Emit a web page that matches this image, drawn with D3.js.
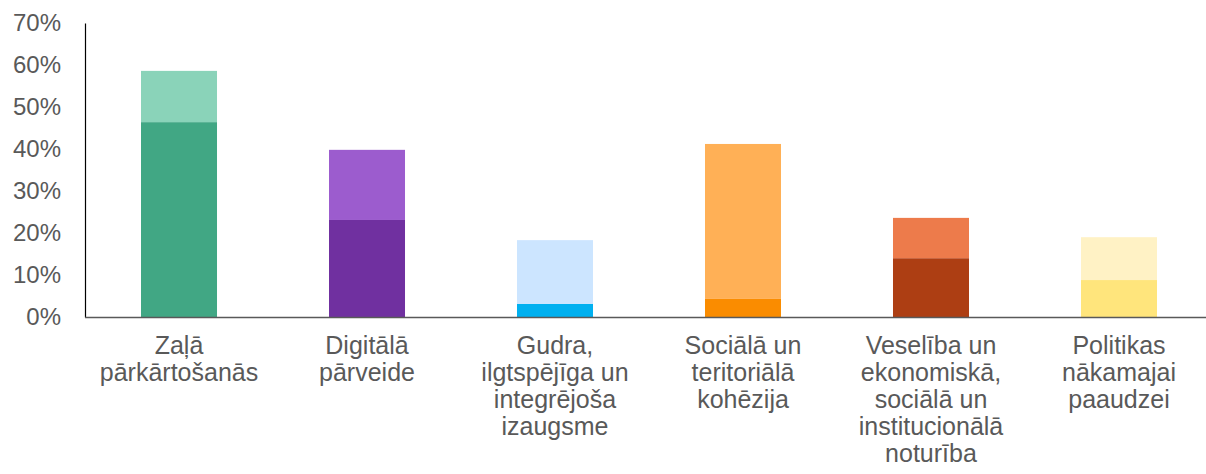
<!DOCTYPE html>
<html>
<head>
	<meta charset="utf-8">
	<title>Stacked bars</title>
	<script src="https://cdn.jsdelivr.net/npm/d3@7"></script>
	<style>
		body { margin: 0; background: #fff; }
		text { font-family: "Liberation Sans", Arial, sans-serif; fill: #595959; }
	</style>
</head>
<body>
	<div id="chart"></div>
	<script>
		var categories = [
			["Zaļā", "pārkārtošanās"],
			["Digitālā", "pārveide"],
			["Gudra,", "ilgtspējīga un", "integrējoša", "izaugsme"],
			["Sociālā un", "teritoriālā", "kohēzija"],
			["Veselība un", "ekonomiskā,", "sociālā un", "institucionālā", "noturība"],
			["Politikas", "nākamajai", "paaudzei"]
		];
		var lowerValues = [0.464, 0.231, 0.031, 0.043, 0.140, 0.088];
		var totalValues = [0.586, 0.398, 0.183, 0.412, 0.236, 0.190];
		var lowerColors = ["#41a784", "#7030a0", "#00b0f0", "#fa8c00", "#ad3e13", "#ffe57c"];
		var upperColors = ["#8ad3b9", "#9c5cce", "#cce5ff", "#ffb056", "#ed7b4b", "#fff2c5"];
		var yTicks = [0, 0.1, 0.2, 0.3, 0.4, 0.5, 0.6, 0.7];

		var width = 1206, height = 474;
		var svg = d3.select("#chart").append("svg").attr("width", width).attr("height", height);

		var x = d3.scaleBand().domain(d3.range(categories.length))
			.range([85, 1213]).paddingInner(0.5957).paddingOuter(0.2979);
		var y = d3.scaleLinear().domain([0, 0.7]).range([317, 23]);

		// lower part
		svg.selectAll("rect.low").data(lowerValues).enter().append("rect")
			.attr("class", "low")
			.attr("x", function (d, i) { return x(i); })
			.attr("width", x.bandwidth())
			.attr("y", function (d) { return y(d); })
			.attr("height", function (d) { return y(0) - y(d); })
			.attr("fill", function (d, i) { return lowerColors[i]; });

		// upper part
		svg.selectAll("rect.up").data(totalValues).enter().append("rect")
			.attr("class", "up")
			.attr("x", function (d, i) { return x(i); })
			.attr("width", x.bandwidth())
			.attr("y", function (d) { return y(d); })
			.attr("height", function (d, i) { return y(lowerValues[i]) - y(d); })
			.attr("fill", function (d, i) { return upperColors[i]; });

		// y axis
		var yAxis = d3.axisLeft(y).tickValues(yTicks).tickFormat(d3.format(".0%")).tickSize(0).tickPadding(24);
		var gy = svg.append("g").attr("transform", "translate(85,0)").call(yAxis);
		gy.select(".domain").attr("stroke", "#000").attr("stroke-width", 1.2);
		gy.selectAll("text").style("font-size", "24px").attr("fill", "#595959");

		// x axis line
		svg.append("line").attr("x1", 85).attr("x2", width).attr("y1", y(0) + 0.5).attr("y2", y(0) + 0.5)
			.attr("stroke", "#595959").attr("stroke-width", 1.5);

		// category labels, one text per line
		var labels = svg.selectAll("g.cat").data(categories).enter().append("g")
			.attr("class", "cat")
			.attr("transform", function (d, i) { return "translate(" + (x(i) + x.bandwidth() / 2) + ",354)"; });
		labels.selectAll("text").data(function (d) { return d; }).enter().append("text")
			.attr("text-anchor", "middle")
			.style("font-size", "25px")
			.attr("y", function (d, j) { return j * 27; })
			.text(function (d) { return d; });
	</script>
</body>
</html>
